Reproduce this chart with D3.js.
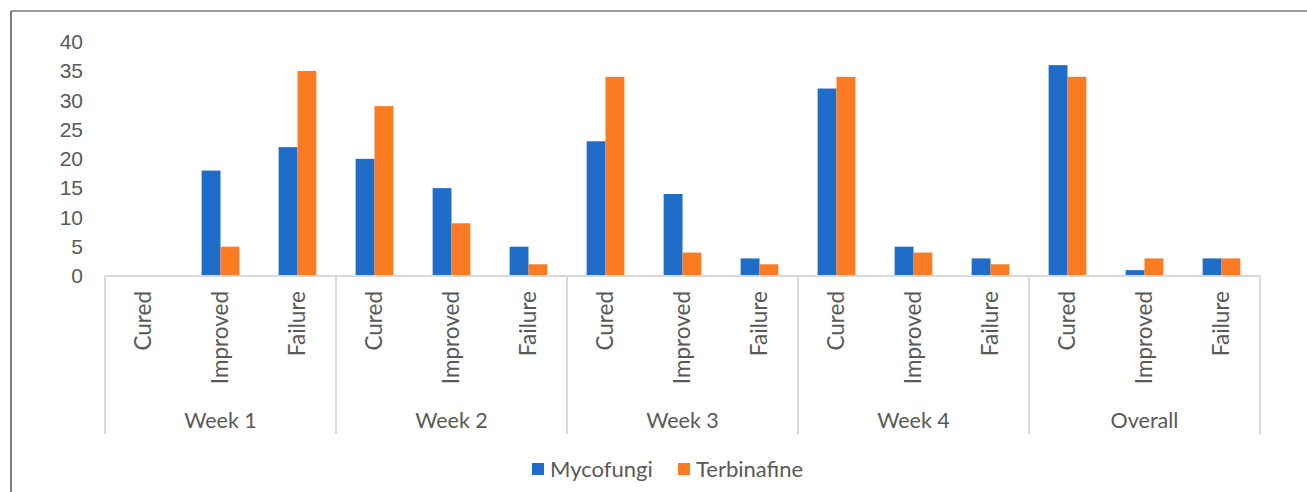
<!DOCTYPE html>
<html>
<head>
<meta charset="utf-8">
<script src="https://cdn.jsdelivr.net/npm/d3@7"></script>
<style>
  body { margin: 0; background: #fff; }
  svg { display: block; font-family: Lato, "Open Sans", sans-serif; }
</style>
</head>
<body>
<svg id="chart" width="1307" height="492"></svg>
<script>
// data
const groups = ["Week 1", "Week 2", "Week 3", "Week 4", "Overall"];
const outcomes = ["Cured", "Improved", "Failure"];
const seriesNames = ["Mycofungi", "Terbinafine"];
const mycofungi = [0, 18, 22, 20, 15, 5, 23, 14, 3, 32, 5, 3, 36, 1, 3];
const terbinafine = [0, 5, 35, 29, 9, 2, 34, 4, 2, 34, 4, 2, 34, 3, 3];
const yTicks = [0, 5, 10, 15, 20, 25, 30, 35, 40];
const colors = ["#1f6dc9", "#fb7b22"];

const svg = d3.select("#chart");
const W = 1307, H = 492;
const plotBottom = 276;
const textColor = "#595959";

// frame lines (top and left only visible)
svg.append("line").attr("x1", 11).attr("x2", W).attr("y1", 11).attr("y2", 11)
  .attr("stroke", "#7a7a7a").attr("stroke-width", 1.5);
svg.append("line").attr("x1", 11).attr("x2", 11).attr("y1", 11).attr("y2", H)
  .attr("stroke", "#555").attr("stroke-width", 1.5);

// one slot per group/outcome pair
const cats = [];
groups.forEach(g => outcomes.forEach(o => cats.push({ group: g, outcome: o, key: g + "|" + o })));

const x = d3.scaleBand()
  .domain(cats.map(d => d.key))
  .range([105, 1260])
  .paddingInner(0.51)
  .paddingOuter(0.255);

const xs = d3.scaleBand().domain(seriesNames).range([0, x.bandwidth()]);

const y = d3.scaleLinear().domain([0, 40]).range([plotBottom, 41.7]);

// y axis labels only
const yAxis = svg.append("g")
  .attr("transform", "translate(105,0)")
  .call(d3.axisLeft(y).tickValues(yTicks).tickSize(0).tickPadding(22));
yAxis.select(".domain").remove();
yAxis.selectAll("text").attr("fill", textColor).attr("font-size", 21);

// bars
const rows = cats.map((c, i) => ({ key: c.key, values: [mycofungi[i], terbinafine[i]] }));
svg.append("g").selectAll("g")
  .data(rows)
  .join("g")
  .attr("transform", d => `translate(${x(d.key)},0)`)
  .selectAll("rect")
  .data(d => d.values.map((v, j) => ({ name: seriesNames[j], v, j })))
  .join("rect")
  .attr("x", d => xs(d.name))
  .attr("width", xs.bandwidth())
  .attr("y", d => y(d.v))
  .attr("height", d => y(0) - y(d.v))
  .attr("fill", d => colors[d.j]);

// category axis: baseline and group separators
const axisColor = "#d9d9d9";
const axisBottom = 434;
const step = x.step();
const x0 = 105;
svg.append("line").attr("x1", x0).attr("x2", 1260).attr("y1", plotBottom).attr("y2", plotBottom)
  .attr("stroke", axisColor).attr("stroke-width", 2);
const groupW = step * outcomes.length;
const seps = d3.range(groups.length + 1).map(i => x0 + i * groupW);
svg.append("g").selectAll("line")
  .data(seps)
  .join("line")
  .attr("x1", d => d).attr("x2", d => d)
  .attr("y1", plotBottom).attr("y2", axisBottom)
  .attr("stroke", axisColor).attr("stroke-width", 2);

// rotated outcome labels
svg.append("g").selectAll("text")
  .data(cats)
  .join("text")
  .attr("transform", d => `translate(${x(d.key) + x.bandwidth() / 2 + 7},291) rotate(-90)`)
  .attr("text-anchor", "end")
  .attr("fill", textColor)
  .attr("font-size", 22.5)
  .text(d => d.outcome);

// group labels
svg.append("g").selectAll("text")
  .data(groups)
  .join("text")
  .attr("x", (d, i) => x0 + i * groupW + groupW / 2)
  .attr("y", 428)
  .attr("text-anchor", "middle")
  .attr("fill", textColor)
  .attr("font-size", 21.5)
  .text(d => d);

// legend
const legend = svg.append("g");
const legendItems = [{ name: seriesNames[0], x: 532 }, { name: seriesNames[1], x: 678 }];
legendItems.forEach((it, i) => {
  legend.append("rect").attr("x", it.x).attr("y", 463).attr("width", 12).attr("height", 12)
    .attr("fill", colors[i]);
  legend.append("text").attr("x", it.x + 18).attr("y", 477)
    .attr("fill", textColor).attr("font-size", 22).text(it.name);
});
</script>
</body>
</html>
